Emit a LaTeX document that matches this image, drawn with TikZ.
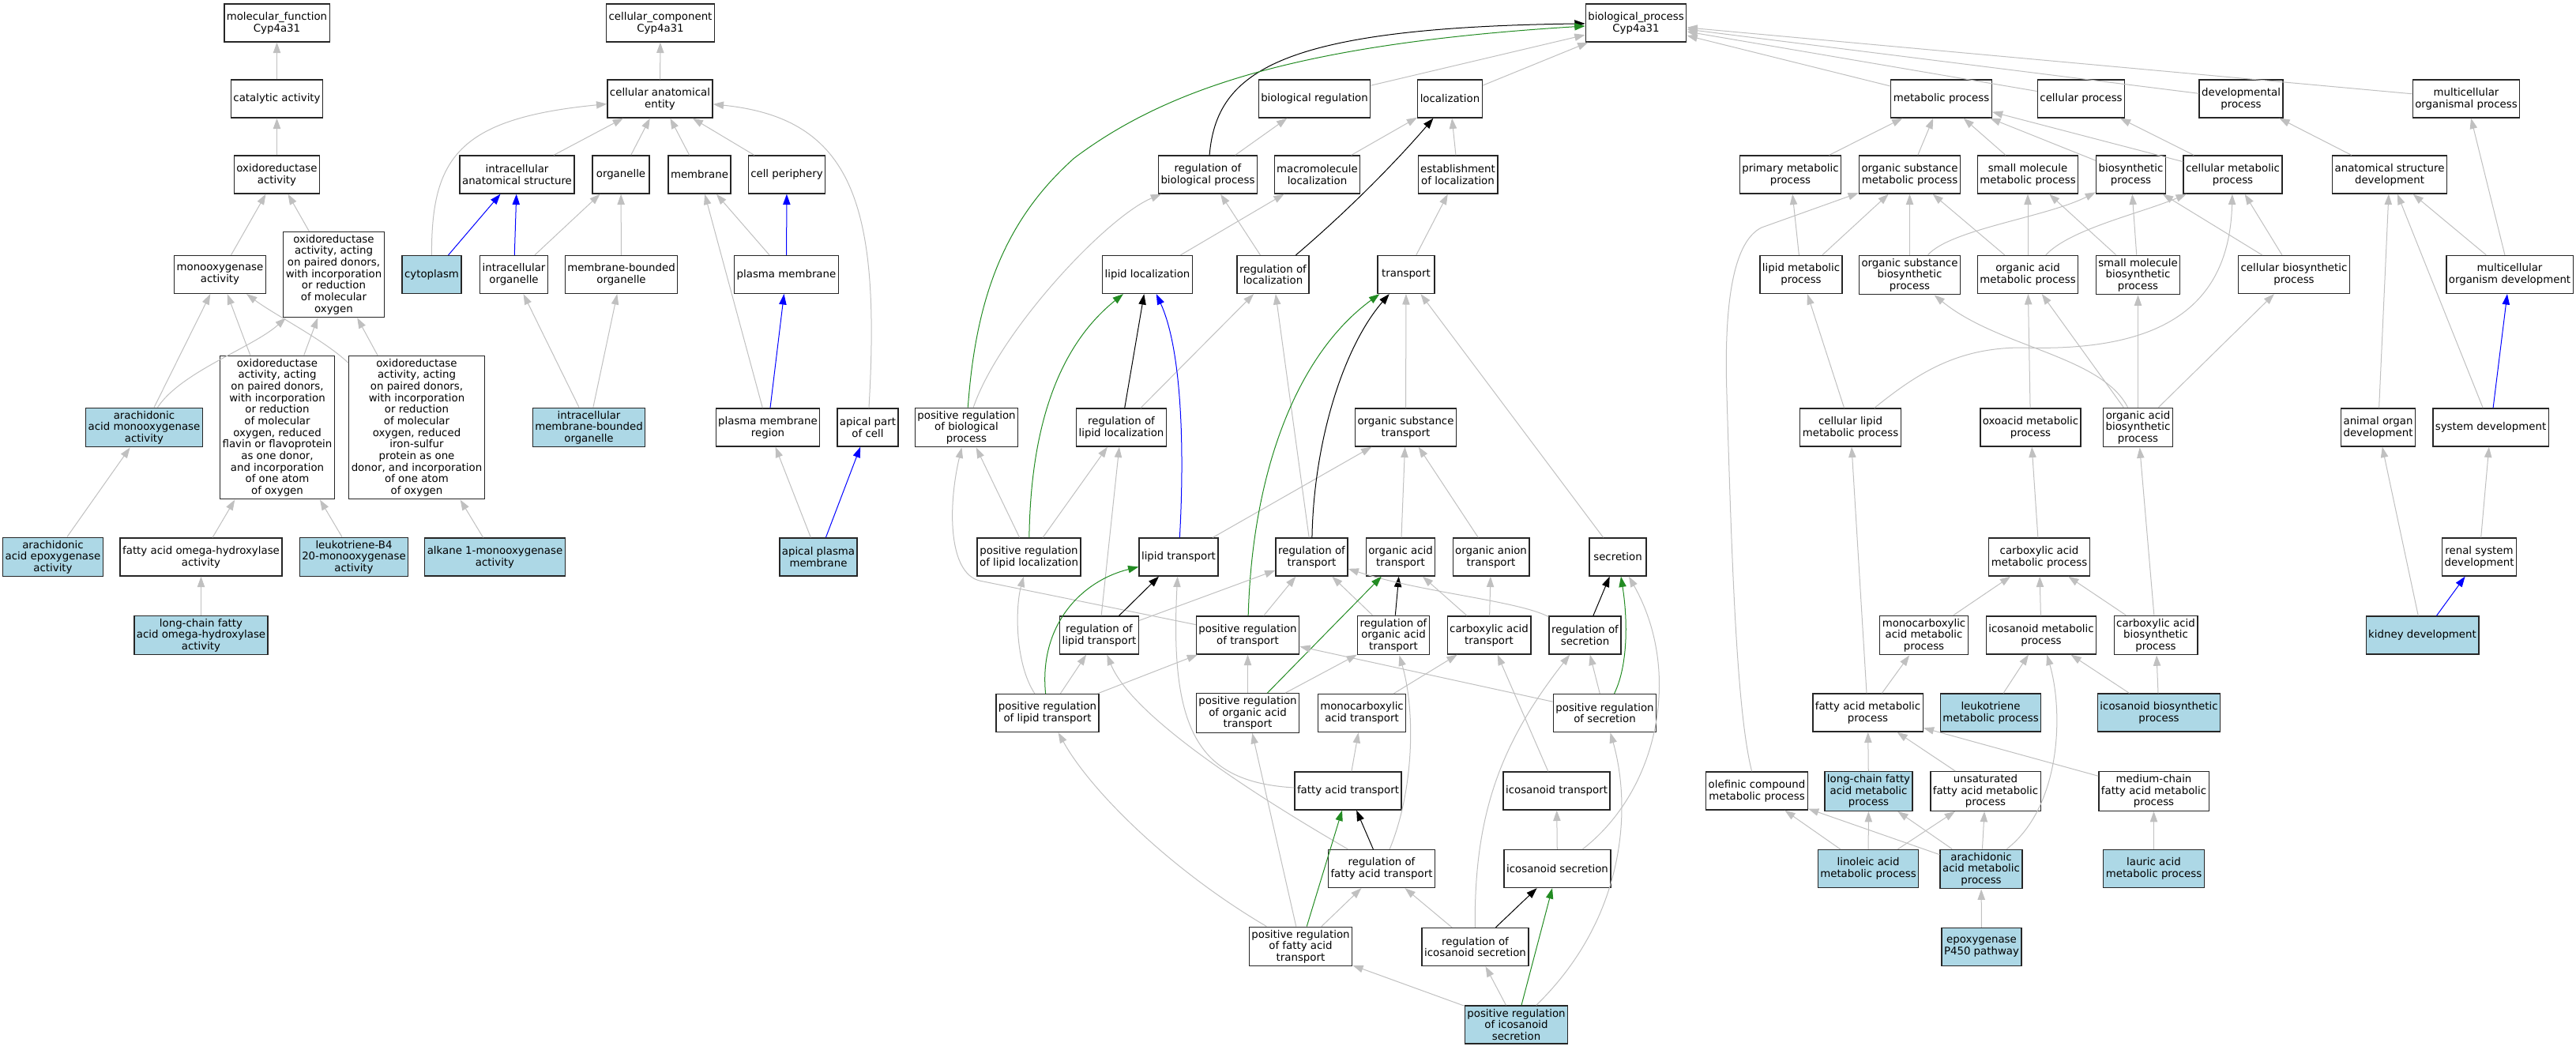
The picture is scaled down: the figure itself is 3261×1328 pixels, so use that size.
\documentclass[tikz,border=0pt]{standalone}
\usepackage{fontspec}
\setmainfont{DejaVu Sans}
\usepackage{tikz}
\usetikzlibrary{arrows.meta}
\usepackage{xcolor}

\definecolor{edgegray}{HTML}{C0C0C0}
\definecolor{hitblue}{HTML}{ADD8E6}
\definecolor{posgreen}{HTML}{228B22}
\newcommand{\gofont}{\fontsize{10}{11}\selectfont}

\begin{document}
\begin{tikzpicture}[x=0.75pt, y=-0.75pt,
	term/.style={draw=black!85, line width=1pt, fill=white, align=center, font=\gofont,
		inner xsep=2.25pt, inner ysep=2.75pt, minimum width=54pt, minimum height=36pt},
	hit/.style={term, fill=hitblue},
	isa/.style={draw=edgegray, line width=0.75pt, -{Triangle[length=10pt, width=7pt]}},
	partof/.style={isa, draw=blue},
	regs/.style={isa, draw=black},
	posregs/.style={isa, draw=posgreen}]
	\useasboundingbox (0,0) rectangle (3261,1328);

	% molecular function
	\node [term] (mf) at (350.5,29) {molecular\_function\\Cyp4a31};
	\node [term] (catal) at (350.5,125) {catalytic activity};
	\node [term] (oxred) at (350.5,221) {oxidoreductase\\activity};
	\node [term] (monoox) at (278.5,347.5) {monooxygenase\\activity};
	\node [term] (oxpair) at (422.5,347.5) {oxidoreductase\\activity, acting\\on paired donors,\\with incorporation\\or reduction\\of molecular\\oxygen};
	\node [hit] (aamono) at (182.5,541) {arachidonic\\acid monooxygenase\\activity};
	\node [term] (oxflav) at (351,541) {oxidoreductase\\activity, acting\\on paired donors,\\with incorporation\\or reduction\\of molecular\\oxygen, reduced\\flavin or flavoprotein\\as one donor,\\and incorporation\\of one atom\\of oxygen};
	\node [term] (oxiron) at (527.5,541) {oxidoreductase\\activity, acting\\on paired donors,\\with incorporation\\or reduction\\of molecular\\oxygen, reduced\\iron-sulfur\\protein as one\\donor, and incorporation\\of one atom\\of oxygen};
	\node [hit] (aaepox) at (67,705) {arachidonic\\acid epoxygenase\\activity};
	\node [term] (fahyd) at (254.5,705) {fatty acid omega-hydroxylase\\activity};
	\node [hit] (ltb4) at (448,705) {leukotriene-B4\\20-monooxygenase\\activity};
	\node [hit] (alkane) at (626.5,705) {alkane 1-monooxygenase\\activity};
	\node [hit] (lcfahyd) at (254.5,804) {long-chain fatty\\acid omega-hydroxylase\\activity};

	% cellular component
	\node [term] (cc) at (836,29) {cellular\_component\\Cyp4a31};
	\node [term] (cae) at (835.5,125) {cellular anatomical\\entity};
	\node [term] (ias) at (654.5,221) {intracellular\\anatomical structure};
	\node [term] (organelle) at (786,221) {organelle};
	\node [term] (membrane) at (885.5,221) {membrane};
	\node [term] (cellper) at (996,221) {cell periphery};
	\node [hit] (cytoplasm) at (546.5,347.5) {cytoplasm};
	\node [term] (intorg) at (650.5,347.5) {intracellular\\organelle};
	\node [term] (mbo) at (786.5,347.5) {membrane-bounded\\organelle};
	\node [term] (plasmem) at (995.5,347.5) {plasma membrane};
	\node [hit] (imbo) at (745.5,541) {intracellular\\membrane-bounded\\organelle};
	\node [term] (pmr) at (972,541) {plasma membrane\\region};
	\node [term] (apical) at (1098.5,541) {apical part\\of cell};
	\node [hit] (apm) at (1036,705) {apical plasma\\membrane};

	% biological process
	\node [term] (bp) at (2071,29) {biological\_process\\Cyp4a31};
	\node [term] (bioreg) at (1664,125) {biological regulation};
	\node [term] (loc) at (1835.5,125) {localization};
	\node [term] (metab) at (2457.5,125) {metabolic process};
	\node [term] (cellproc) at (2634.5,125) {cellular process};
	\node [term] (devproc) at (2837,125) {developmental\\process};
	\node [term] (mcop) at (3122,125) {multicellular\\organismal process};
	\node [term] (regbp) at (1529,221) {regulation of\\biological process};
	\node [term] (macroloc) at (1667.5,221) {macromolecule\\localization};
	\node [term] (estloc) at (1845.5,221) {establishment\\of localization};
	\node [term] (primary) at (2266.5,221) {primary metabolic\\process};
	\node [term] (osmp) at (2417.5,221) {organic substance\\metabolic process};
	\node [term] (smmp) at (2567,221) {small molecule\\metabolic process};
	\node [term] (biosyn) at (2697.5,221) {biosynthetic\\process};
	\node [term] (cellmet) at (2826.5,221) {cellular metabolic\\process};
	\node [term] (asd) at (3025,221) {anatomical structure\\development};
	\node [term] (lipidloc) at (1452.5,347.5) {lipid localization};
	\node [term] (regloc) at (1611.5,347.5) {regulation of\\localization};
	\node [term] (transport) at (1780,347.5) {transport};
	\node [term] (lmp) at (2280,347.5) {lipid metabolic\\process};
	\node [term] (osbp) at (2417.5,348) {organic substance\\biosynthetic\\process};
	\node [term] (oamp) at (2567,347.5) {organic acid\\metabolic process};
	\node [term] (smbp) at (2706.5,348) {small molecule\\biosynthetic\\process};
	\node [term] (cbp) at (2904,347.5) {cellular biosynthetic\\process};
	\node [term] (mcod) at (3177,347.5) {multicellular\\organism development};
	\node [term] (posregbp) at (1223.5,541) {positive regulation\\of biological\\process};
	\node [term] (reglipidloc) at (1419.5,541) {regulation of\\lipid localization};
	\node [term] (ost) at (1779.5,541) {organic substance\\transport};
	\node [term] (clmp) at (2342.5,541) {cellular lipid\\metabolic process};
	\node [term] (oxoacid) at (2570.5,541) {oxoacid metabolic\\process};
	\node [term] (oabp) at (2706.5,541) {organic acid\\biosynthetic\\process};
	\node [term] (aod) at (3010.5,541) {animal organ\\development};
	\node [term] (sysdev) at (3153,541) {system development};
	\node [term] (posreglipidloc) at (1302.5,705) {positive regulation\\of lipid localization};
	\node [term] (lipidtr) at (1492,705) {lipid transport};
	\node [term] (regtr) at (1660.5,705) {regulation of\\transport};
	\node [term] (oat) at (1773,705) {organic acid\\transport};
	\node [term] (oanion) at (1887.5,705) {organic anion\\transport};
	\node [term] (secretion) at (2048,705) {secretion};
	\node [term] (cam) at (2581.5,705) {carboxylic acid\\metabolic process};
	\node [term] (renal) at (3138.5,705) {renal system\\development};
	\node [term] (reglipidtr) at (1391.5,804) {regulation of\\lipid transport};
	\node [term] (posregtr) at (1579.5,804) {positive regulation\\of transport};
	\node [term] (regoat) at (1764,804) {regulation of\\organic acid\\transport};
	\node [term] (cat) at (1885,804) {carboxylic acid\\transport};
	\node [term] (regsec) at (2006.5,804) {regulation of\\secretion};
	\node [term] (mcam) at (2435.5,804) {monocarboxylic\\acid metabolic\\process};
	\node [term] (icomp) at (2584,804) {icosanoid metabolic\\process};
	\node [term] (cabp) at (2729,804) {carboxylic acid\\biosynthetic\\process};
	\node [hit] (kidney) at (3066.5,804) {kidney development};
	\node [term] (posreglipidtr) at (1326,902.5) {positive regulation\\of lipid transport};
	\node [term] (posregoat) at (1579.5,902.5) {positive regulation\\of organic acid\\transport};
	\node [term] (mcat) at (1724,902.5) {monocarboxylic\\acid transport};
	\node [term] (posregsec) at (2031.5,902.5) {positive regulation\\of secretion};
	\node [term] (famp) at (2364.5,902) {fatty acid metabolic\\process};
	\node [hit] (ltmp) at (2520,902) {leukotriene\\metabolic process};
	\node [hit] (icobp) at (2733,902) {icosanoid biosynthetic\\process};
	\node [term] (fatr) at (1706.5,1001) {fatty acid transport};
	\node [term] (icotr) at (1970.5,1001) {icosanoid transport};
	\node [term] (olef) at (2224,1001) {olefinic compound\\metabolic process};
	\node [hit] (lcfamp) at (2365.5,1001.5) {long-chain fatty\\acid metabolic\\process};
	\node [term] (unsat) at (2513.5,1001.5) {unsaturated\\fatty acid metabolic\\process};
	\node [term] (mcfamp) at (2726.5,1001.5) {medium-chain\\fatty acid metabolic\\process};
	\node [term] (regfatr) at (1749,1099.5) {regulation of\\fatty acid transport};
	\node [term] (icosec) at (1971.5,1099.5) {icosanoid secretion};
	\node [hit] (linoleic) at (2365,1099.5) {linoleic acid\\metabolic process};
	\node [hit] (aamp) at (2508,1100) {arachidonic\\acid metabolic\\process};
	\node [hit] (lauric) at (2726.5,1099.5) {lauric acid\\metabolic process};
	\node [term] (posregfatr) at (1646.5,1198) {positive regulation\\of fatty acid\\transport};
	\node [term] (regicosec) at (1867.5,1198.5) {regulation of\\icosanoid secretion};
	\node [hit] (epox) at (2508.5,1198.5) {epoxygenase\\P450 pathway};
	\node [hit] (posregicosec) at (1919.5,1297) {positive regulation\\of icosanoid\\secretion};

	% molecular function edges
	\draw [isa] (catal) -- (mf);
	\draw [isa] (oxred) -- (catal);
	\draw [isa] (monoox) -- (oxred);
	\draw [isa] (oxpair) -- (oxred);
	\draw [isa] (aamono) -- (monoox);
	\draw [isa] (aamono) .. controls (230,470) and (320,440) .. (oxpair);
	\draw [isa] (oxflav) -- (monoox);
	\draw [isa] (oxflav) -- (oxpair);
	\draw [isa] (oxiron) .. controls (410,430) and (350,400) .. (monoox);
	\draw [isa] (oxiron) -- (oxpair);
	\draw [isa] (aaepox) -- (aamono);
	\draw [isa] (fahyd) -- (oxflav);
	\draw [isa] (ltb4) -- (oxflav);
	\draw [isa] (alkane) -- (oxiron);
	\draw [isa] (lcfahyd) -- (fahyd);

	% cellular component edges
	\draw [isa] (cae) -- (cc);
	\draw [isa] (ias) -- (cae);
	\draw [isa] (organelle) -- (cae);
	\draw [isa] (membrane) -- (cae);
	\draw [isa] (cellper) -- (cae);
	\draw [isa] (cytoplasm) .. controls (546,200) and (580,150) .. (cae);
	\draw [partof] (cytoplasm) -- (ias);
	\draw [partof] (intorg) -- (ias);
	\draw [isa] (intorg) -- (organelle);
	\draw [isa] (mbo) -- (organelle);
	\draw [isa] (imbo) -- (intorg);
	\draw [isa] (imbo) -- (mbo);
	\draw [isa] (plasmem) -- (membrane);
	\draw [partof] (plasmem) -- (cellper);
	\draw [isa] (pmr) -- (membrane);
	\draw [partof] (pmr) -- (plasmem);
	\draw [isa] (apical) .. controls (1115,260) and (1080,150) .. (cae);
	\draw [isa] (apm) -- (pmr);
	\draw [partof] (apm) -- (apical);

	% biological process edges
	\draw [isa] (bioreg) -- (bp);
	\draw [isa] (loc) -- (bp);
	\draw [isa] (metab) -- (bp);
	\draw [isa] (cellproc) -- (bp);
	\draw [isa] (devproc) -- (bp);
	\draw [isa] (mcop) -- (bp);
	\draw [regs] (regbp) .. controls (1540,90) and (1620,35) .. (bp);
	\draw [posregs] (posregbp) .. controls (1235,380) and (1270,280) .. (1360,200) .. controls (1480,110) and (1650,55) .. (bp);
	\draw [isa] (regbp) -- (bioreg);
	\draw [isa] (posregbp) .. controls (1265,420) and (1400,275) .. (regbp);
	\draw [isa] (macroloc) -- (loc);
	\draw [isa] (estloc) -- (loc);
	\draw [regs] (regloc) .. controls (1720,255) and (1780,190) .. (loc);
	\draw [isa] (regloc) -- (regbp);
	\draw [isa] (lipidloc) -- (macroloc);
	\draw [isa] (transport) -- (estloc);
	\draw [regs] (reglipidloc) -- (lipidloc);
	\draw [isa] (reglipidloc) -- (regloc);
	\draw [isa] (posreglipidloc) -- (posregbp);
	\draw [isa] (posreglipidloc) -- (reglipidloc);
	\draw [posregs] (posreglipidloc) .. controls (1305,520) and (1350,430) .. (lipidloc);
	\draw [partof] (lipidtr) .. controls (1500,560) and (1495,440) .. (lipidloc);
	\draw [isa] (lipidtr) -- (ost);
	\draw [isa] (ost) -- (transport);
	\draw [regs] (regtr) .. controls (1663,560) and (1700,440) .. (transport);
	\draw [isa] (regtr) -- (regloc);
	\draw [isa] (oat) -- (ost);
	\draw [isa] (oanion) -- (ost);
	\draw [isa] (secretion) -- (transport);
	\draw [posregs] (posregtr) .. controls (1585,600) and (1640,450) .. (transport);
	\draw [isa] (posregtr) -- (1240,735) .. controls (1200,725) and (1200,640) .. (posregbp);
	\draw [isa] (posregtr) -- (regtr);
	\draw [regs] (reglipidtr) -- (lipidtr);
	\draw [isa] (reglipidtr) -- (regtr);
	\draw [isa] (reglipidtr) -- (reglipidloc);
	\draw [posregs] (posreglipidtr) .. controls (1315,790) and (1370,735) .. (lipidtr);
	\draw [isa] (posreglipidtr) .. controls (1285,840) and (1285,770) .. (posreglipidloc);
	\draw [isa] (posreglipidtr) -- (reglipidtr);
	\draw [isa] (posreglipidtr) -- (posregtr);
	\draw [regs] (regoat) -- (oat);
	\draw [isa] (regoat) -- (regtr);
	\draw [isa] (cat) -- (oat);
	\draw [isa] (cat) -- (oanion);
	\draw [regs] (regsec) -- (secretion);
	\draw [isa] (regsec) .. controls (1920,760) and (1800,750) .. (regtr);
	\draw [posregs] (posregoat) -- (oat);
	\draw [isa] (posregoat) -- (posregtr);
	\draw [isa] (posregoat) -- (regoat);
	\draw [isa] (mcat) -- (cat);
	\draw [posregs] (posregsec) .. controls (2062,840) and (2060,780) .. (secretion);
	\draw [isa] (posregsec) -- (regsec);
	\draw [isa] (posregsec) -- (posregtr);
	\draw [isa] (fatr) -- (mcat);
	\draw [isa] (fatr) .. controls (1520,990) and (1480,930) .. (lipidtr);
	\draw [regs] (regfatr) -- (fatr);
	\draw [isa] (regfatr) .. controls (1560,990) and (1430,900) .. (reglipidtr);
	\draw [isa] (regfatr) .. controls (1790,1000) and (1792,900) .. (regoat);
	\draw [posregs] (posregfatr) -- (fatr);
	\draw [isa] (posregfatr) -- (regfatr);
	\draw [isa] (posregfatr) -- (posregoat);
	\draw [isa] (posregfatr) .. controls (1480,1100) and (1380,1000) .. (posreglipidtr);
	\draw [isa] (icotr) -- (cat);
	\draw [isa] (icosec) -- (icotr);
	\draw [isa] (icosec) .. controls (2100,1000) and (2130,850) .. (secretion);
	\draw [regs] (regicosec) -- (icosec);
	\draw [isa] (regicosec) .. controls (1866,1030) and (1900,940) .. (regsec);
	\draw [isa] (regicosec) -- (regfatr);
	\draw [posregs] (posregicosec) -- (icosec);
	\draw [isa] (posregicosec) -- (regicosec);
	\draw [isa] (posregicosec) -- (posregfatr);
	\draw [isa] (posregicosec) .. controls (2060,1160) and (2065,1020) .. (posregsec);

	% metabolic edges
	\draw [isa] (primary) -- (metab);
	\draw [isa] (osmp) -- (metab);
	\draw [isa] (smmp) -- (metab);
	\draw [isa] (biosyn) -- (metab);
	\draw [isa] (cellmet) -- (metab);
	\draw [isa] (cellmet) -- (cellproc);
	\draw [isa] (asd) -- (devproc);
	\draw [isa] (mcod) -- (mcop);
	\draw [isa] (mcod) -- (asd);
	\draw [isa] (lmp) -- (primary);
	\draw [isa] (lmp) -- (osmp);
	\draw [isa] (osbp) -- (osmp);
	\draw [isa] (osbp) .. controls (2470,290) and (2590,275) .. (biosyn);
	\draw [isa] (oamp) -- (osmp);
	\draw [isa] (oamp) -- (smmp);
	\draw [isa] (oamp) .. controls (2620,290) and (2710,270) .. (cellmet);
	\draw [isa] (smbp) -- (smmp);
	\draw [isa] (smbp) -- (biosyn);
	\draw [isa] (cbp) -- (biosyn);
	\draw [isa] (cbp) -- (cellmet);
	\draw [isa] (clmp) -- (lmp);
	\draw [isa] (clmp) .. controls (2430,470) and (2480,440) .. (2560,440) .. controls (2720,445) and (2822,400) .. (cellmet);
	\draw [isa] (oxoacid) -- (oamp);
	\draw [isa] (oabp) -- (oamp);
	\draw [isa] (oabp) .. controls (2660,450) and (2530,440) .. (osbp);
	\draw [isa] (oabp) -- (smbp);
	\draw [isa] (oabp) -- (cbp);
	\draw [isa] (cam) -- (oxoacid);
	\draw [isa] (mcam) -- (cam);
	\draw [isa] (icomp) -- (cam);
	\draw [isa] (cabp) -- (cam);
	\draw [isa] (cabp) -- (oabp);
	\draw [isa] (famp) -- (clmp);
	\draw [isa] (famp) -- (mcam);
	\draw [isa] (ltmp) -- (icomp);
	\draw [isa] (icobp) -- (icomp);
	\draw [isa] (icobp) -- (cabp);
	\draw [isa] (olef) .. controls (2198,900) and (2192,700) .. (2186,500) .. controls (2182,380) and (2195,305) .. (2230,288) -- (osmp);
	\draw [isa] (lcfamp) -- (famp);
	\draw [isa] (unsat) -- (famp);
	\draw [isa] (mcfamp) -- (famp);
	\draw [isa] (linoleic) -- (olef);
	\draw [isa] (linoleic) -- (lcfamp);
	\draw [isa] (linoleic) -- (unsat);
	\draw [isa] (aamp) -- (olef);
	\draw [isa] (aamp) -- (lcfamp);
	\draw [isa] (aamp) -- (unsat);
	\draw [isa] (aamp) .. controls (2610,1020) and (2612,900) .. (icomp);
	\draw [isa] (lauric) -- (mcfamp);
	\draw [isa] (epox) -- (aamp);

	% development edges
	\draw [isa] (aod) -- (asd);
	\draw [isa] (sysdev) -- (asd);
	\draw [partof] (sysdev) -- (mcod);
	\draw [isa] (renal) -- (sysdev);
	\draw [isa] (kidney) -- (aod);
	\draw [partof] (kidney) -- (renal);
\end{tikzpicture}
\end{document}
